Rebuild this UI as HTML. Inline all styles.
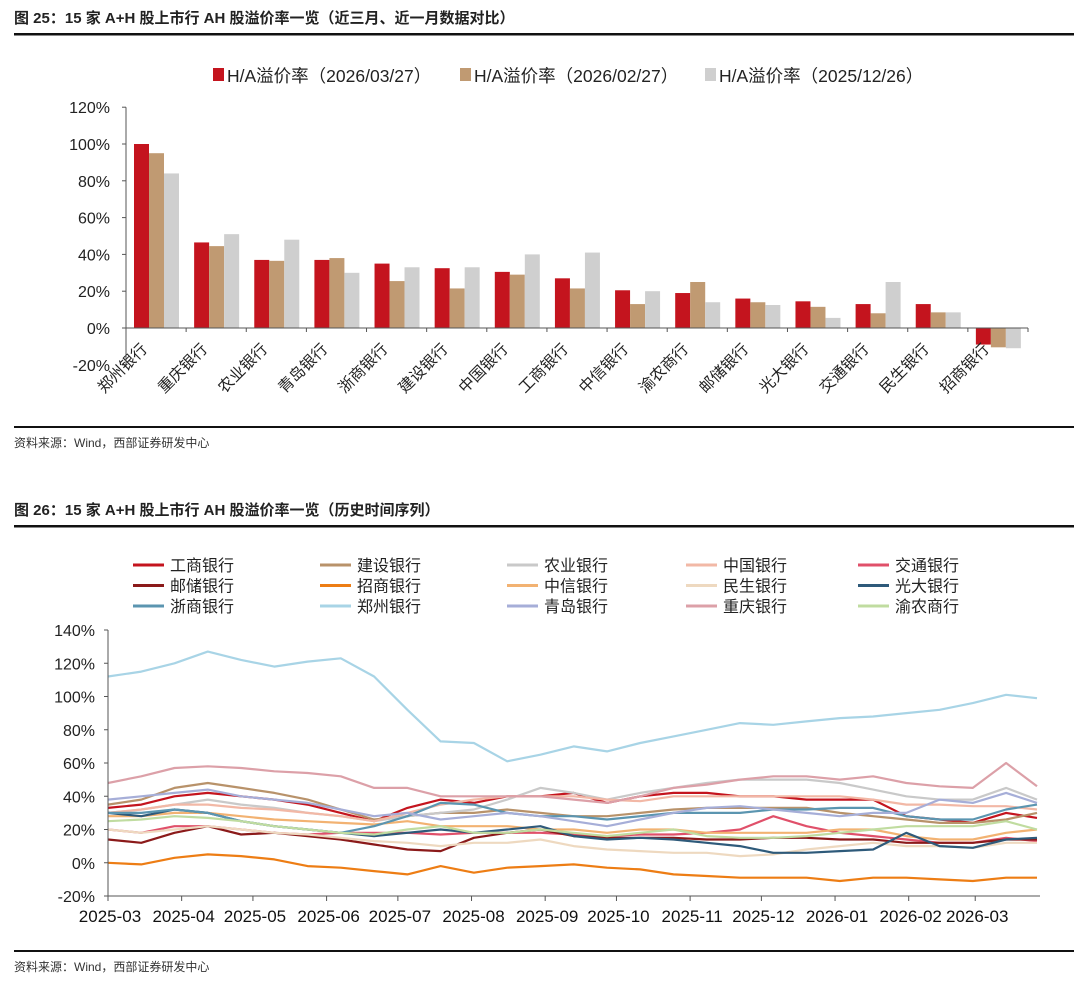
<!DOCTYPE html>
<html><head><meta charset="utf-8"><style>
body{margin:0;background:#fff;width:1080px;height:984px;overflow:hidden;font-family:"Liberation Sans","Noto Sans CJK SC",sans-serif}
svg{display:block}
</style></head><body>
<svg id="s" width="1080" height="984" xmlns="http://www.w3.org/2000/svg" font-family="Liberation Sans, Noto Sans CJK SC, sans-serif">
<text x="14" y="23" font-size="15" font-weight="bold" fill="#222">图 25：15 家 A+H 股上市行 AH 股溢价率一览（近三月、近一月数据对比）</text>
<rect x="14" y="33" width="1060" height="2.5" fill="#111"/>
<g id="top"></g>
<rect x="14" y="426" width="1060" height="2" fill="#111"/>
<text x="14" y="447" font-size="12" fill="#333">资料来源：Wind，西部证券研发中心</text>
<text x="14" y="515" font-size="15" font-weight="bold" fill="#222">图 26：15 家 A+H 股上市行 AH 股溢价率一览（历史时间序列）</text>
<rect x="14" y="525" width="1060" height="2.5" fill="#111"/>
<g id="bot"></g>
<rect x="14" y="950" width="1060" height="2" fill="#111"/>
<text x="14" y="971" font-size="12" fill="#333">资料来源：Wind，西部证券研发中心</text>
</svg>
<script>
const NS="http://www.w3.org/2000/svg";
function mk(t,a,p){const e=document.createElementNS(NS,t);for(const k in a)e.setAttribute(k,a[k]);p.appendChild(e);return e;}

// ---- bar chart data ----
const barCategories=["郑州银行","重庆银行","农业银行","青岛银行","浙商银行","建设银行","中国银行","工商银行","中信银行","渝农商行","邮储银行","光大银行","交通银行","民生银行","招商银行"];
const barSeriesNames=["H/A溢价率（2026/03/27）","H/A溢价率（2026/02/27）","H/A溢价率（2025/12/26）"];
const barMar=[100,46.5,37,37,35,32.5,30.5,27,20.5,19,16,14.5,13,13,-9];
const barFeb=[95,44.5,36.5,38,25.5,21.5,29,21.5,13,25,14,11.5,8,8.5,-10.5];
const barDec=[84,51,48,30,33,33,40,41,20,14,12.5,5.5,25,8.5,-11];
const barTicks=[120,100,80,60,40,20,0,-20];

// ---- line chart data ----
const lineDays=[0,14,28,42,56,70,84,98,112,126,140,154,168,182,196,210,224,238,252,266,280,294,308,322,336,350,364,378,391];
const monthTicks=["2025-03","2025-04","2025-05","2025-06","2025-07","2025-08","2025-09","2025-10","2025-11","2025-12","2026-01","2026-02","2026-03"];
const monthTickDays=[0,31,61,92,122,153,184,214,245,275,306,337,365];
const lineYTicks=[140,120,100,80,60,40,20,0,-20];
const lineNames=["工商银行","建设银行","农业银行","中国银行","交通银行","邮储银行","招商银行","中信银行","民生银行","光大银行","浙商银行","郑州银行","青岛银行","重庆银行","渝农商行"];
const icbc=[33,35,40,42,40,38,35,30,25,33,38,36,40,40,42,36,40,42,42,40,40,38,38,38,28,26,24,30,27];
const ccb=[35,38,45,48,45,42,38,32,26,28,30,30,32,30,28,28,30,32,33,33,33,33,30,28,26,24,24,26,30];
const abc=[30,32,35,38,35,33,30,28,25,28,30,32,38,45,42,38,42,45,48,50,50,50,48,44,40,38,38,45,38];
const boc=[30,32,35,35,33,32,30,28,25,30,35,38,40,40,40,38,37,40,40,40,40,40,40,38,35,35,34,34,32];
const bocom=[20,18,22,22,20,18,17,18,18,18,17,18,18,18,17,16,17,17,18,20,28,22,18,16,14,12,12,15,13];
const psbc=[14,12,18,22,17,18,16,14,11,8,7,15,18,20,16,15,15,15,14,14,15,15,14,14,12,12,12,14,14];
const cmb=[0,-1,3,5,4,2,-2,-3,-5,-7,-2,-6,-3,-2,-1,-3,-4,-7,-8,-9,-9,-9,-11,-9,-9,-10,-11,-9,-9];
const citic=[28,28,30,30,28,26,25,24,23,25,22,22,22,20,20,18,20,20,18,18,18,18,20,20,16,14,14,18,20];
const cmbc=[20,18,20,22,20,18,17,15,13,12,10,12,12,14,10,8,7,6,6,4,5,8,10,12,10,10,9,12,12];
const ceb=[30,28,32,30,25,22,20,18,16,18,20,18,20,22,16,14,15,14,12,10,6,6,7,8,18,10,9,14,15];
const czb=[30,30,32,30,25,22,20,18,22,28,36,35,30,28,28,26,28,30,30,30,32,32,33,33,28,26,26,32,35];
const zzb=[112,115,120,127,122,118,121,123,112,92,73,72,61,65,70,67,72,76,80,84,83,85,87,88,90,92,96,101,99];
const qdb=[38,40,42,44,40,38,36,32,28,30,26,28,30,28,25,22,26,30,33,34,32,30,28,30,30,38,36,42,36];
const cqb=[48,52,57,58,57,55,54,52,45,45,40,40,40,40,38,36,40,45,47,50,52,52,50,52,48,46,45,60,46];
const cqrcb=[25,26,28,27,25,22,20,18,17,20,22,18,18,20,18,16,18,20,16,15,15,16,18,20,22,22,22,25,20];
const lineValues=[icbc,ccb,abc,boc,bocom,psbc,cmb,citic,cmbc,ceb,czb,zzb,qdb,cqb,cqrcb];
const lineColors=["#c4141e","#b8926a","#c9c9c9","#f2b8a6","#e0506a","#8b1a1a","#ed7d14","#f2b272","#eed9c0","#2e5a7a","#5b95b0","#a8d4e6","#a6aed8","#dca0a8","#c0dca0"];

// ---- draw bar chart ----
(function(){
 const g=document.getElementById('top');
 const x0=126,x1=1028,yZero=328,per=36.8/20;
 const y=v=>yZero-v*per;
 const gw=(x1-x0)/barCategories.length, bw=15;
 const cols=["#c4141e","#c09a72","#cfcfcf"];
 const lx=[213,460,705];
 barSeriesNames.forEach((n,i)=>{
  const r=mk('rect',{x:lx[i],y:68,width:11,height:13,fill:cols[i]},g);
  
  
  const t=mk('text',{x:lx[i]+14,y:82,'font-size':17.5,fill:'#222'},g);t.textContent=n;
  
  
 });
 barTicks.forEach(v=>{
  const t=mk('text',{x:110,y:y(v)+6,'font-size':16,'text-anchor':'end',fill:'#222'},g);t.textContent=v+'%';
  
  
  mk('line',{x1:x0-4,x2:x0,y1:y(v),y2:y(v),stroke:'#555'},g);
 });
 const series=[barMar,barFeb,barDec];
 barCategories.forEach((c,i)=>{
  const gx=x0+i*gw+8;
  series.forEach((s,j)=>{
   const v=s[i];
   const r=mk('rect',{x:gx+j*bw,y:Math.min(y(v),yZero),width:bw,height:Math.abs(y(v)-yZero),fill:cols[j]},g);
   
   
  });
  const tx=x0+i*gw+gw/2-8, ty=yZero+22;
  const t=mk('text',{x:tx,y:ty,'font-size':15.5,'text-anchor':'end',fill:'#222',transform:`rotate(-45 ${tx} ${ty})`},g);t.textContent=c;
  
  
  mk('line',{x1:x0+(i+1)*gw,x2:x0+(i+1)*gw,y1:yZero,y2:yZero+4,stroke:'#555'},g);
 });
 mk('line',{x1:x0,x2:x0,y1:y(120),y2:y(-20),stroke:'#555'},g);
 mk('line',{x1:x0,x2:x1,y1:yZero,y2:yZero,stroke:'#555'},g);
})();

// ---- draw line chart ----
(function(){
 const g=document.getElementById('bot');
 const x0=108,x1=1040,d1=391,xe=1037;
 const x=d=>x0+d*(xe-x0)/d1;
 const yTop=630,yBot=896;
 const y=v=>yTop+(140-v)*(yBot-yTop)/160;
 const colX=[133,320,507,686,858];
 lineNames.forEach((n,i)=>{
  const cx=colX[i%5], cy=565+Math.floor(i/5)*20.5;
  const l=mk('line',{x1:cx,x2:cx+31,y1:cy,y2:cy,stroke:lineColors[i],'stroke-width':3},g);
  
  
  const t=mk('text',{x:cx+37,y:cy+6,'font-size':16,fill:'#222'},g);t.textContent=n;
  
  
 });
 lineYTicks.forEach(v=>{
  const t=mk('text',{x:95,y:y(v)+6,'font-size':16,'text-anchor':'end',fill:'#222'},g);t.textContent=v+'%';
  
  
  mk('line',{x1:x0-4,x2:x0,y1:y(v),y2:y(v),stroke:'#555'},g);
 });
 monthTicks.forEach((m,i)=>{
  const tx=x(monthTickDays[i]);
  mk('line',{x1:tx,x2:tx,y1:yBot,y2:yBot+5,stroke:'#555'},g);
  const t=mk('text',{x:tx+2,y:yBot+26,'font-size':17,'text-anchor':'middle',fill:'#111'},g);t.textContent=m;
  
  
 });
 lineValues.forEach((s,i)=>{
  const d=s.map((v,k)=>(k?'L':'M')+x(lineDays[k]).toFixed(1)+','+y(v).toFixed(1)).join('');
  const p=mk('path',{d:d,fill:'none',stroke:lineColors[i],'stroke-width':2.2,'stroke-linejoin':'round'},g);
  
  
 });
 mk('line',{x1:x0,x2:x0,y1:yTop,y2:yBot,stroke:'#555'},g);
 mk('line',{x1:x0,x2:x1,y1:yBot,y2:yBot,stroke:'#555'},g);
})();
</script>
</body></html>
